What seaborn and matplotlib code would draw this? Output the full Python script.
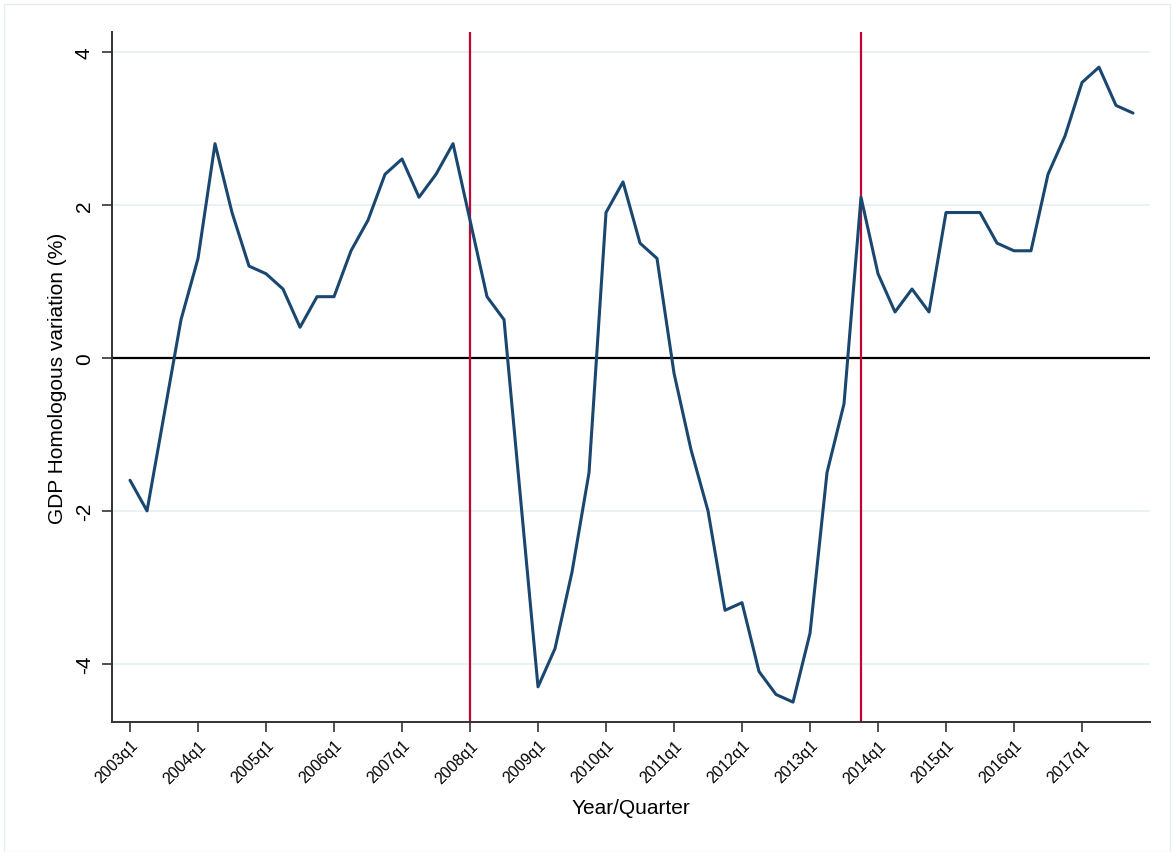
import numpy as np
import pandas as pd
import matplotlib
matplotlib.use("Agg")
import matplotlib.pyplot as plt
import matplotlib.patches as mpatches
import seaborn as sns

sns.set_style("white")
plt.rcParams['font.family'] = ['Liberation Sans', 'DejaVu Sans']
plt.rcParams['text.color'] = 'black'
plt.rcParams['axes.labelcolor'] = 'black'
plt.rcParams['xtick.color'] = 'black'
plt.rcParams['ytick.color'] = 'black'

# ---- data (quarterly GDP homologous variation, %) ----
years = list(range(2003, 2018))
quarters = [f"{y}q{q}" for y in years for q in range(1, 5)]
gdp_var = [
    -1.6, -2.0, -0.75, 0.5,     # 2003
    1.3, 2.8, 1.9, 1.2,         # 2004
    1.1, 0.9, 0.4, 0.8,         # 2005
    0.8, 1.4, 1.8, 2.4,         # 2006
    2.6, 2.1, 2.4, 2.8,         # 2007
    1.8, 0.8, 0.5, -1.9,        # 2008
    -4.3, -3.8, -2.8, -1.5,     # 2009
    1.9, 2.3, 1.5, 1.3,         # 2010
    -0.2, -1.2, -2.0, -3.3,     # 2011
    -3.2, -4.1, -4.4, -4.5,     # 2012
    -3.6, -1.5, -0.6, 2.1,      # 2013
    1.1, 0.6, 0.9, 0.6,         # 2014
    1.9, 1.9, 1.9, 1.5,         # 2015
    1.4, 1.4, 2.4, 2.9,         # 2016
    3.6, 3.8, 3.3, 3.2,         # 2017
]
tick_labels = [f"{y}q1" for y in years]
break_quarters = ["2008q1", "2013q4"]
y_ticks = [-4, -2, 0, 2, 4]

df = pd.DataFrame({"t": np.arange(len(quarters)), "quarter": quarters, "gdp": gdp_var})

fig = plt.figure(figsize=(11.74, 8.53), dpi=100)
ax = fig.add_axes([112/1174, 1 - 723/853, (1150 - 112)/1174, (723 - 33)/853])

# light outer frame (graph region)
fig.patches.append(mpatches.Rectangle((4/1174, 0), 1166/1174, 1 - 5/853,
                                      transform=fig.transFigure, fill=False,
                                      edgecolor="#e6edf1", linewidth=1.0))

for yv in y_ticks:
    if yv != 0:
        ax.axhline(yv, color="#eaf2f3", linewidth=1.4, zorder=0)
ax.axhline(0, color="black", linewidth=1.6, zorder=1)

for bq in break_quarters:
    ax.axvline(quarters.index(bq), color="#c10534", linewidth=1.6, zorder=2)

sns.lineplot(data=df, x="t", y="gdp", color="#1a476f", linewidth=2.2, ax=ax, zorder=3)

ax.set_xlim(-1.06, 60.0)
ax.set_ylim(-4.76, 4.26)

ax.set_xticks([quarters.index(t) for t in tick_labels])
ax.set_xticklabels(tick_labels, rotation=45, ha="right", rotation_mode="anchor", fontsize=11.5)
ax.set_yticks(y_ticks)
ax.set_yticklabels([str(v) for v in y_ticks], rotation=90, va="center", fontsize=15)

ax.tick_params(axis="both", direction="out", length=7, width=1.2, color="#333333",
               bottom=True, left=True)
ax.tick_params(axis="x", pad=4)
ax.tick_params(axis="y", pad=6)

ax.set_xlabel("Year/Quarter", fontsize=15, labelpad=9)
ax.set_ylabel("GDP Homologous variation (%)", fontsize=15, labelpad=6)

for side in ["top", "right"]:
    ax.spines[side].set_visible(False)
for side in ["left", "bottom"]:
    ax.spines[side].set_color("#333333")
    ax.spines[side].set_linewidth(1.4)

fig.savefig("out.png", dpi=100)
